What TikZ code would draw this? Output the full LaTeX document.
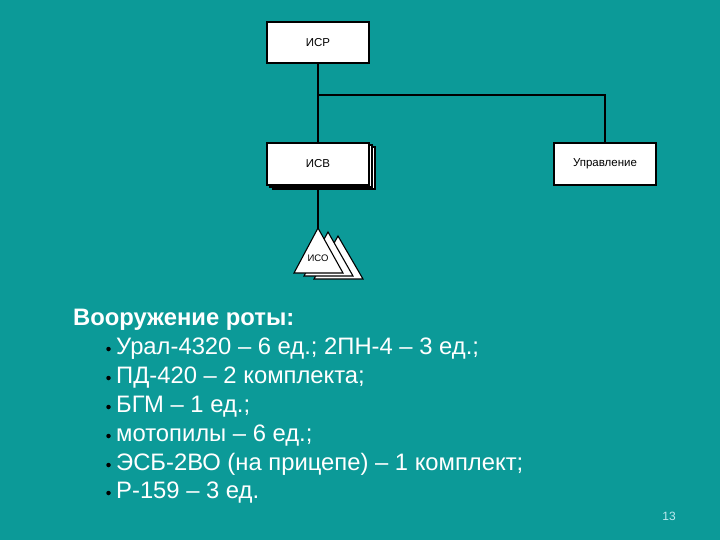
\documentclass[tikz,border=0pt]{standalone}
\usepackage{fontspec}
\setmainfont{Liberation Sans}
\begin{document}
\begin{tikzpicture}[x=1pt,y=-1pt,
  box/.style={draw=black,line width=1.1pt,fill=white},
  conn/.style={draw=black,line width=1.1pt},
  small/.style={font=\fontsize{11.5}{12}\selectfont,text=black},
  txt/.style={anchor=base west,inner sep=0pt,text=white,font=\fontsize{23.8}{26}\selectfont},
  bul/.style={circle,fill=black,inner sep=0pt,minimum size=4.5pt}]
\fill[fill={rgb,255:red,12;green,154;blue,152}] (0,0) rectangle (720,540);
\useasboundingbox (0,0) rectangle (720,540);
% ISR
\draw[box] (267,22) rectangle (369,63);
\node[small] (isr) at (318,42.5) {ИСР};
\coordinate (isrb) at (318,63);
% ISV stacked
\draw[box] (273,147) rectangle (375,189);
\draw[box] (270,145) rectangle (372,187);
\draw[box] (267,143) rectangle (369,185);
\node[small] (isv) at (318,164) {ИСВ};
\coordinate (isvt) at (318,143);
\coordinate (isvb) at (318,185);
% Upravlenie
\draw[box] (554,143) rectangle (656,185);
\node[small] (upr) at (605,164) {Управление};
\coordinate (uprt) at (605,143);
% ISO triangles
\draw[box,line join=miter] (338,236) -- (363,279) -- (314,279) -- cycle;
\draw[box,line join=miter] (328,232) -- (353,276) -- (304,276) -- cycle;
\draw[box,line join=miter] (318,228) -- (343,273) -- (294,273) -- cycle;
\node[small,font=\fontsize{9.5}{10}\selectfont] (iso) at (318,258) {ИСО};
\coordinate (isot) at (318,228);
% connectors
\coordinate (j) at (318,95);
\draw[conn] (isrb) -- (isvt);
\draw[conn] (j) -| (uprt);
\draw[conn] (isvb) -- (isot);
% text
\node[txt,font=\fontsize{23.8}{26}\bfseries] (h) at (73,325) {Вооружение роты:};
\node[txt] (l1) at (116,354) {Урал-4320 – 6 ед.; 2ПН-4 – 3 ед.;};
\node[txt] (l2) at (116,383) {ПД-420 – 2 комплекта;};
\node[txt] (l3) at (116,412) {БГМ – 1 ед.;};
\node[txt] (l4) at (116,441) {мотопилы – 6 ед.;};
\node[txt] (l5) at (116,470) {ЭСБ-2ВО (на прицепе) – 1 комплект;};
\node[txt] (l6) at (116,498) {Р-159 – 3 ед.};
\foreach \y/\n in {354/1,383/2,412/3,441/4,470/5,498/6}
  \node[bul] (b\n) at (108.5,\y-5) {};
\node[font=\fontsize{12}{13}\selectfont,text={rgb,255:red,190;green,235;blue,240}] (pg) at (669,516) {13};
\end{tikzpicture}
\end{document}
